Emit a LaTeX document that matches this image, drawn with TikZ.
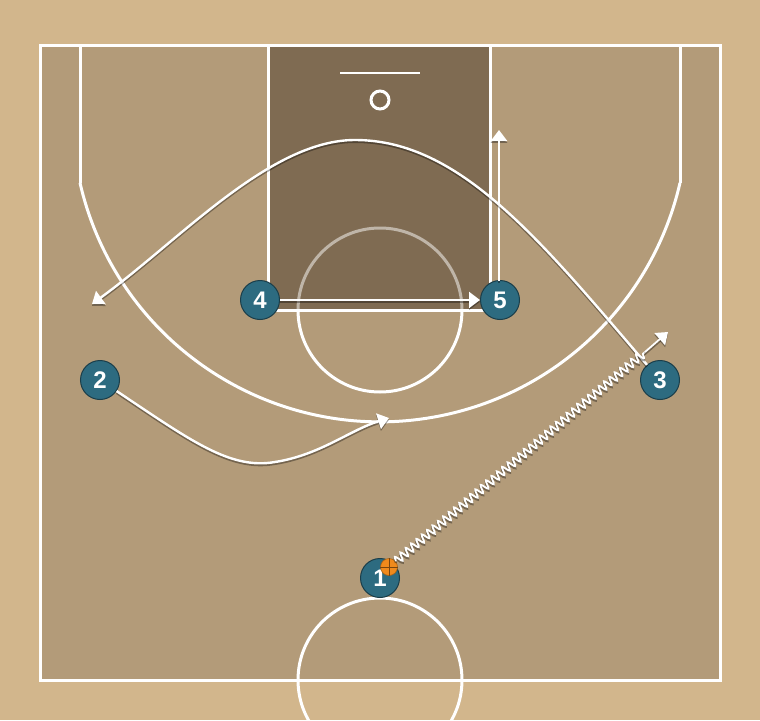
\documentclass[tikz,border=0pt]{standalone}
\usepackage{fontspec}
\setsansfont{Liberation Sans}
\usetikzlibrary{arrows.meta,decorations.pathmorphing}
\definecolor{woodout}{HTML}{D2B68C}
\definecolor{woodin}{HTML}{B39B79}
\definecolor{paint}{HTML}{7F6B52}
\definecolor{teal}{HTML}{2D6B80}
\definecolor{tealdark}{HTML}{1B3E4A}
\definecolor{ballor}{HTML}{F08A1C}
\tikzstyle{court}=[draw=white, line width=3pt]
\tikzstyle{plr}=[shape=circle, draw=tealdark, fill=teal, line width=1pt, minimum size=39pt, inner sep=0pt, text=white, font=\sffamily\bfseries\fontsize{24}{24}\selectfont]
\tikzstyle{move}=[draw=white, line width=2.4pt, preaction={draw=black, opacity=0.35, line width=2.4pt, transform canvas={yshift=-1.8pt}}]
\tikzstyle{mvarrow}=[-{Triangle[length=11pt,width=16pt]}]

\begin{document}
\begin{tikzpicture}[x=1pt,y=-1pt]
\useasboundingbox (0,0) rectangle (760,720);
\fill[woodout] (0,0) rectangle (760,720);
\fill[woodin] (40,45) rectangle (720,680);
\fill[paint] (268,45) rectangle (490,310);

% court lines
\begin{scope}
\clip (0,0) rectangle (760,720);
\draw[court] (380,680) circle (82);
\end{scope}
\draw[court] (40,45) rectangle (720,680);
\draw[court] (268,45) -- (268,310) -- (490,310) -- (490,45);
\draw[court, draw opacity=0.5] (298,310) arc[start angle=180, end angle=360, radius=82];
\draw[court] (298,310) arc[start angle=180, end angle=0, radius=82];
\draw[court] (80,45) -- (80,183);
\draw[court] (680,45) -- (680,183);
\draw[court] (380,114) ++(167.05:307.8) arc[start angle=167.05, end angle=12.95, radius=307.8];
\draw[draw=white, line width=2pt] (340,73) -- (420,73);
\draw[draw=white, line width=3pt] (380,100) circle (9);

% players
\node (p1) [plr] at (380,578) {1};
\node (p2) [plr] at (100,380) {2};
\node (p3) [plr] at (660,380) {3};
\node (p4) [plr] at (260,300) {4};
\node (p5) [plr] at (500,300) {5};

% ball
\node (ball) [shape=circle, draw=ballor!70!black, fill=ballor, minimum size=17pt, inner sep=0pt, line width=0.6pt] at (389,567) {};
\draw[ballor!50!black, line width=0.5pt] (ball.north) -- (ball.south) (ball.west) -- (ball.east);

\coordinate (c3end) at (92,304);
\coordinate (c2end) at (389,418);
\coordinate (c5end) at (499,130);
\coordinate (c1a) at (645,352);
\coordinate (c1end) at (668,332);

% movements
\draw[move, mvarrow] (p4) -- (p5);
\draw[move, mvarrow] (499,281) -- (c5end);
\draw[move, mvarrow] (p3) .. controls (540,240) and (460,140) .. (355,140) .. controls (270,140) and (180,240) .. (c3end);
\draw[move, mvarrow] (p2) .. controls (190,440) and (230,470) .. (275,462) .. controls (320,455) and (350,430) .. (c2end);
\draw[move, line width=1.8pt, decorate, decoration={snake, segment length=7pt, amplitude=4pt}] (ball) -- (c1a);
\draw[move, line width=1.8pt, mvarrow] (c1a) -- (c1end);
\end{tikzpicture}
\end{document}
